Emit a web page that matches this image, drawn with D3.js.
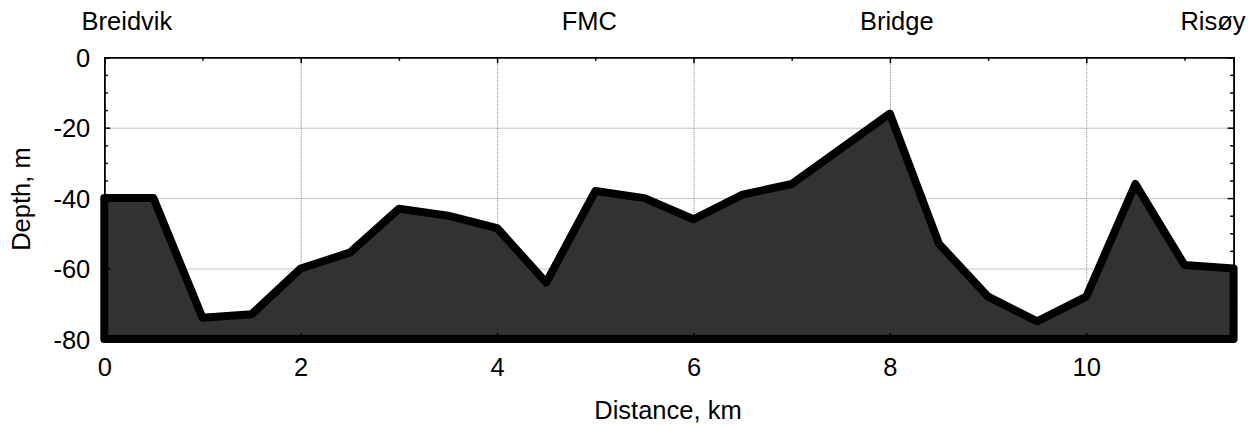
<!DOCTYPE html>
<html>
<head>
<meta charset="utf-8">
<script src="https://cdn.jsdelivr.net/npm/d3@7"></script>
<style>
  body { margin: 0; background: #fff; }
  svg { font-family: "Liberation Sans", Arial, sans-serif; }
  .grid line { stroke: #888; stroke-width: 1; stroke-dasharray: 1,1; }
  .grid path { display: none; }
  .frame path { stroke: #000; stroke-width: 1.5; }
  .frame line { stroke: #000; stroke-width: 1.5; }
  .frame text { font-size: 25.5px; fill: #000; }
</style>
</head>
<body>
<svg id="chart" width="1258" height="425"></svg>
<script>
// distance along the section (km) and depth (m)
var distance = [0, 0.5, 1, 1.5, 2, 2.5, 3, 3.5, 4, 4.5, 5, 5.5, 6, 6.5, 7, 7.5, 8, 8.5, 9, 9.5, 10, 10.5, 11, 11.5];
var depth = [-40, -40, -74, -73, -60, -55.5, -43, -45, -48.5, -64, -38, -40, -46, -39, -36, -26, -16, -53, -68, -75, -68, -36, -59, -60];

var xTicks = [0, 2, 4, 6, 8, 10];
var yTicks = [0, -20, -40, -60, -80];

// place names on top
var places = ["Breidvik", "FMC", "Bridge", "Risøy"];
var placeKm = [0.23, 4.94, 8.07, 11.29];

var svg = d3.select("#chart");
var pLeft = 104.3, pRight = 1233.6, pTop = 57.3, pBottom = 338.9;

var x = d3.scaleLinear().domain([0, 11.5]).range([pLeft, pRight]);
var y = d3.scaleLinear().domain([-80, 0]).range([pBottom, pTop]);

// plain hyphen for negatives, like the original
var plain = function(d) { return String(d); };

// grid lines first so the section covers them
svg.append("g").attr("class", "grid")
    .attr("transform", "translate(0," + pBottom + ")")
    .call(d3.axisBottom(x).tickValues(xTicks.slice(1)).tickSize(-(pBottom - pTop)).tickFormat(""));
svg.append("g").attr("class", "grid")
    .attr("transform", "translate(" + pLeft + ",0)")
    .call(d3.axisLeft(y).tickValues([-20, -40, -60]).tickSize(-(pRight - pLeft)).tickFormat(""));

// bottom profile
var pts = distance.map(function(d, i) { return [d, depth[i]]; });
pts.push([11.5, -80]);
pts.push([0, -80]);

svg.append("path")
    .datum(pts)
    .attr("d", d3.line().x(function(d) { return x(d[0]); }).y(function(d) { return y(d[1]); })(pts) + "Z")
    .attr("fill", "#323232")
    .attr("stroke", "#000")
    .attr("stroke-width", 8)
    .attr("stroke-linejoin", "round");

// frame with inward ticks
var xMinor = d3.range(1, 12, 2);
var yMinor = d3.range(-75, 0, 5).filter(function(v) { return v % 20 !== 0; });

function frameAxis(axis, tr) {
    var g = svg.append("g").attr("class", "frame").attr("transform", tr).call(axis);
    return g;
}

var bx = frameAxis(d3.axisBottom(x).tickValues(xTicks).tickSize(-6).tickFormat(plain),
    "translate(0," + pBottom + ")");
bx.selectAll("text").attr("dy", "0.71em").attr("y", 19);
frameAxis(d3.axisBottom(x).tickValues(xMinor).tickSize(-3.5).tickFormat(""), "translate(0," + pBottom + ")");

frameAxis(d3.axisTop(x).tickValues(xTicks).tickSize(-6).tickFormat(""), "translate(0," + pTop + ")");
frameAxis(d3.axisTop(x).tickValues(xMinor).tickSize(-3.5).tickFormat(""), "translate(0," + pTop + ")");

var ly = frameAxis(d3.axisLeft(y).tickValues(yTicks).tickSize(-6).tickFormat(plain),
    "translate(" + pLeft + ",0)");
ly.selectAll("text").attr("x", -14).attr("dy", "0.36em");
frameAxis(d3.axisLeft(y).tickValues(yMinor).tickSize(-3.5).tickFormat(""), "translate(" + pLeft + ",0)");

frameAxis(d3.axisRight(y).tickValues(yTicks).tickSize(-6).tickFormat(""), "translate(" + pRight + ",0)");
frameAxis(d3.axisRight(y).tickValues(yMinor).tickSize(-3.5).tickFormat(""), "translate(" + pRight + ",0)");

// labels
svg.append("text")
    .attr("x", (pLeft + pRight) / 2 - 1).attr("y", 419)
    .attr("text-anchor", "middle")
    .style("font-size", "25.5px")
    .text("Distance, km");

svg.append("text")
    .attr("transform", "translate(30," + ((pTop + pBottom) / 2 + 1) + ") rotate(-90)")
    .attr("text-anchor", "middle")
    .style("font-size", "25.5px")
    .text("Depth, m");

svg.selectAll(".place")
    .data(places)
    .enter()
    .append("text")
    .attr("class", "place")
    .attr("x", function(d, i) { return x(placeKm[i]); })
    .attr("y", 29.5)
    .attr("text-anchor", "middle")
    .style("font-size", "25.5px")
    .text(function(d) { return d; });
</script>
</body>
</html>
